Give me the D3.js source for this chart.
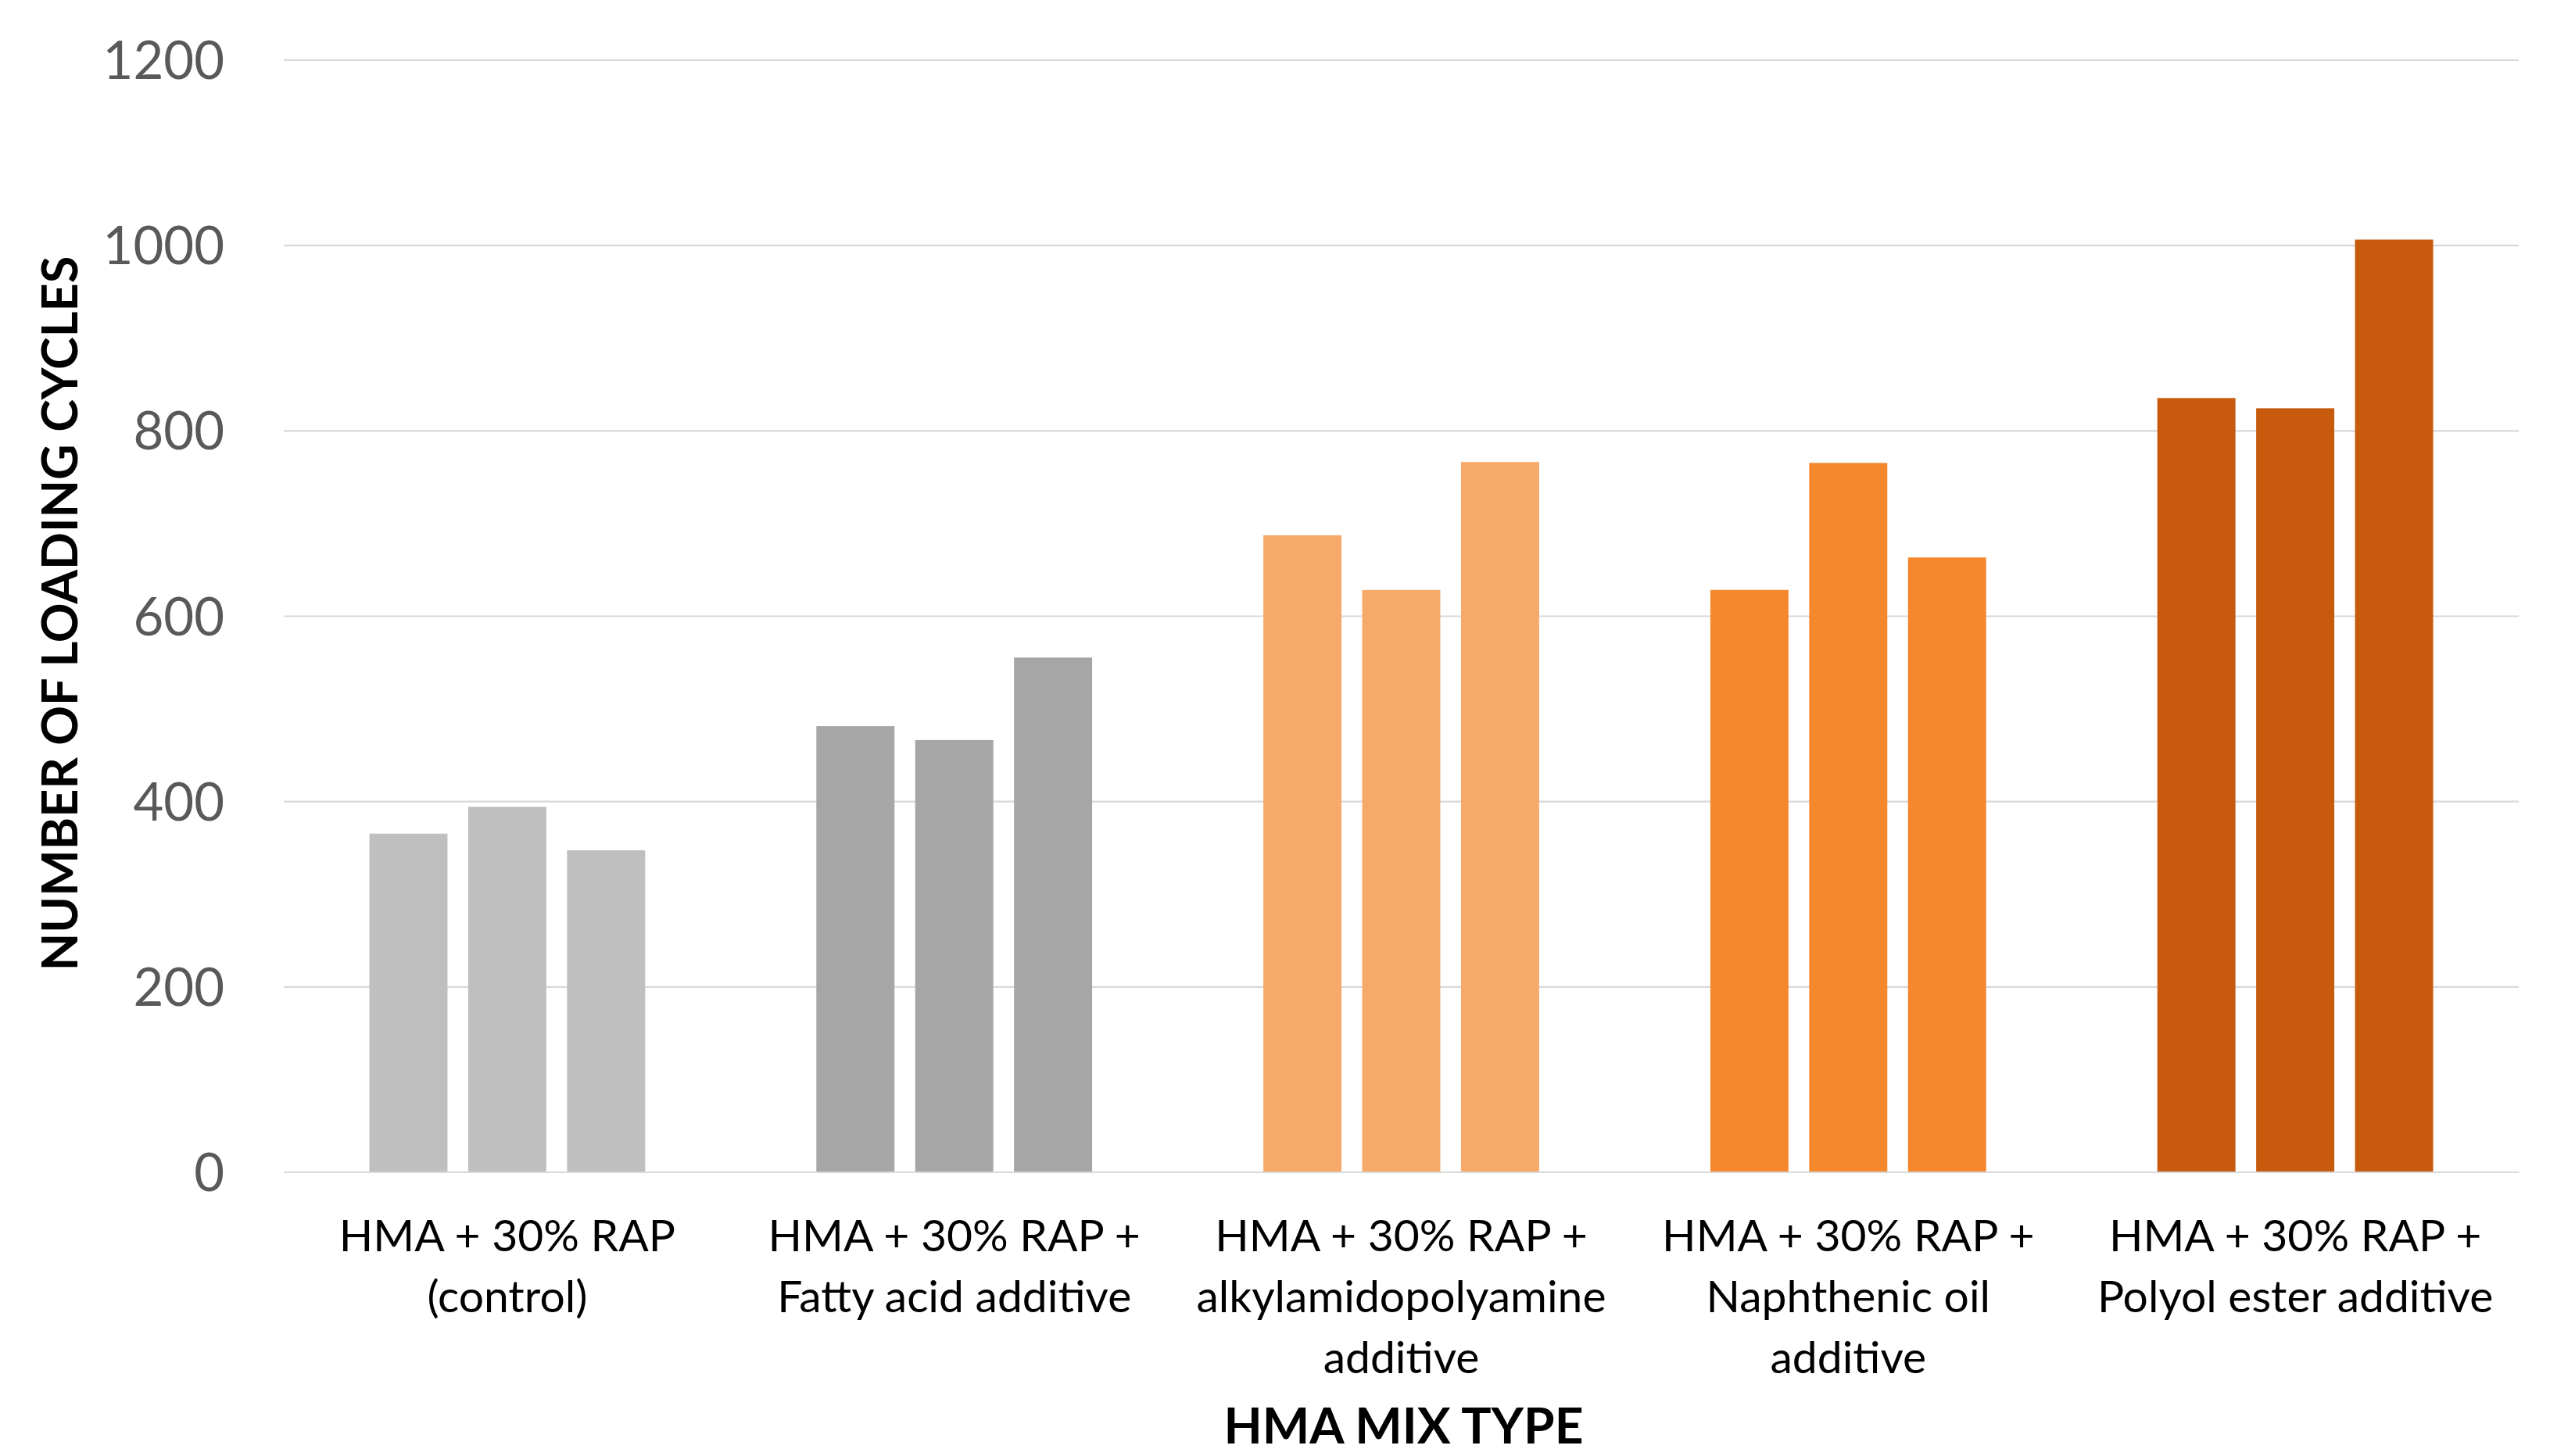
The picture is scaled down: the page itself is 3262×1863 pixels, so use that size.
<!DOCTYPE html>
<html>
<head>
<meta charset="utf-8">
<script src="https://cdn.jsdelivr.net/npm/d3@7"></script>
<style>
  html, body { margin: 0; padding: 0; background: #ffffff; }
  svg { display: block; }
</style>
</head>
<body>
<svg id="chart" width="3262" height="1863"></svg>
<script>
// Mix types, one group of three replicate bars each
const categories = [
  "HMA + 30% RAP (control)",
  "HMA + 30% RAP + Fatty acid additive",
  "HMA + 30% RAP + alkylamidopolyamine additive",
  "HMA + 30% RAP + Naphthenic oil additive",
  "HMA + 30% RAP + Polyol ester additive"
];
// Wrapped tick label lines per category
const categoryLabelLines = [
  ["HMA + 30% RAP", "(control)"],
  ["HMA + 30% RAP +", "Fatty acid additive"],
  ["HMA + 30% RAP +", "alkylamidopolyamine", "additive"],
  ["HMA + 30% RAP +", "Naphthenic oil", "additive"],
  ["HMA + 30% RAP +", "Polyol ester additive"]
];
const replicates = ["1", "2", "3"];
// Number of loading cycles, replicate values per mix
const cycles = [
  [365, 394, 347],
  [481, 466, 555],
  [687, 628, 766],
  [628, 765, 663],
  [835, 824, 1006]
];
const groupColors = ["#BFBFBF", "#A6A6A6", "#F7A96A", "#F5872C", "#C85A0D"];
const yTicks = [0, 200, 400, 600, 800, 1000, 1200];

const svg = d3.select("#chart");
const margin = { left: 363, right: 40, top: 76.5, bottom: 363.5 };
const W = 3262, H = 1863;
const plotW = W - margin.left - margin.right;
const plotH = H - margin.top - margin.bottom;

const g = svg.append("g").attr("transform", `translate(${margin.left},${margin.top})`);

const x0 = d3.scaleBand()
  .domain(categories)
  .range([0, plotW])
  .paddingInner(0.383)
  .paddingOuter(0.1915);

const x1 = d3.scaleBand()
  .domain(replicates)
  .range([0, x0.bandwidth()])
  .paddingInner(0.2095)
  .paddingOuter(0);

const y = d3.scaleLinear().domain([0, 1200]).range([plotH, 0]);

// Horizontal gridlines
g.append("g")
  .attr("class", "grid")
  .call(d3.axisLeft(y).tickValues(yTicks).tickSize(-plotW).tickFormat(""))
  .call(s => s.select(".domain").remove())
  .call(s => s.selectAll("line").attr("stroke", "#D9D9D9").attr("stroke-width", 2.2));

// Y tick labels
g.append("g")
  .attr("class", "y-axis")
  .call(d3.axisLeft(y).tickValues(yTicks).tickSize(0).tickPadding(76).tickFormat(d3.format("d")))
  .call(s => s.select(".domain").remove())
  .call(s => s.selectAll("text")
    .attr("fill", "#595959")
    .attr("font-family", "Lato, 'Open Sans', sans-serif")
    .attr("font-size", 67)
    .attr("dy", "0.36em"));

// Bars
const groups = g.append("g").attr("class", "bars")
  .selectAll("g")
  .data(categories)
  .join("g")
  .attr("transform", d => `translate(${x0(d)},0)`);

groups.selectAll("rect")
  .data((d, i) => cycles[i].map((v, j) => ({ rep: replicates[j], value: v, color: groupColors[i] })))
  .join("rect")
  .attr("x", d => x1(d.rep))
  .attr("width", x1.bandwidth())
  .attr("y", d => y(d.value))
  .attr("height", d => plotH - y(d.value))
  .attr("fill", d => d.color);

// Category axis with wrapped labels
const xAxis = g.append("g")
  .attr("class", "x-axis")
  .attr("transform", `translate(0,${plotH})`)
  .call(d3.axisBottom(x0).tickSize(0).tickFormat(""))
  .call(s => s.select(".domain").attr("stroke", "#D9D9D9").attr("stroke-width", 2.2));

xAxis.selectAll(".tick").each(function(d, i) {
  const t = d3.select(this).append("text")
    .attr("fill", "#000000")
    .attr("font-family", "Lato, 'Open Sans', sans-serif")
    .attr("font-size", 57)
    .attr("text-anchor", "middle");
  categoryLabelLines[i].forEach((line, k) => {
    t.append("tspan").attr("x", 0).attr("y", 101 + k * 78).text(line);
  });
});

// Axis titles
svg.append("text")
  .attr("x", margin.left + plotW / 2 + 3)
  .attr("y", 1847)
  .attr("text-anchor", "middle")
  .attr("font-family", "Lato, 'Open Sans', sans-serif")
  .attr("font-weight", "bold")
  .attr("font-size", 64)
  .attr("fill", "#000000")
  .text("HMA MIX TYPE");

svg.append("text")
  .attr("transform", `translate(99,${margin.top + plotH / 2 - 3}) rotate(-90)`)
  .attr("text-anchor", "middle")
  .attr("font-family", "Lato, 'Open Sans', sans-serif")
  .attr("font-weight", "bold")
  .attr("font-size", 63)
  .attr("fill", "#000000")
  .text("NUMBER OF LOADING CYCLES");
</script>
</body>
</html>
